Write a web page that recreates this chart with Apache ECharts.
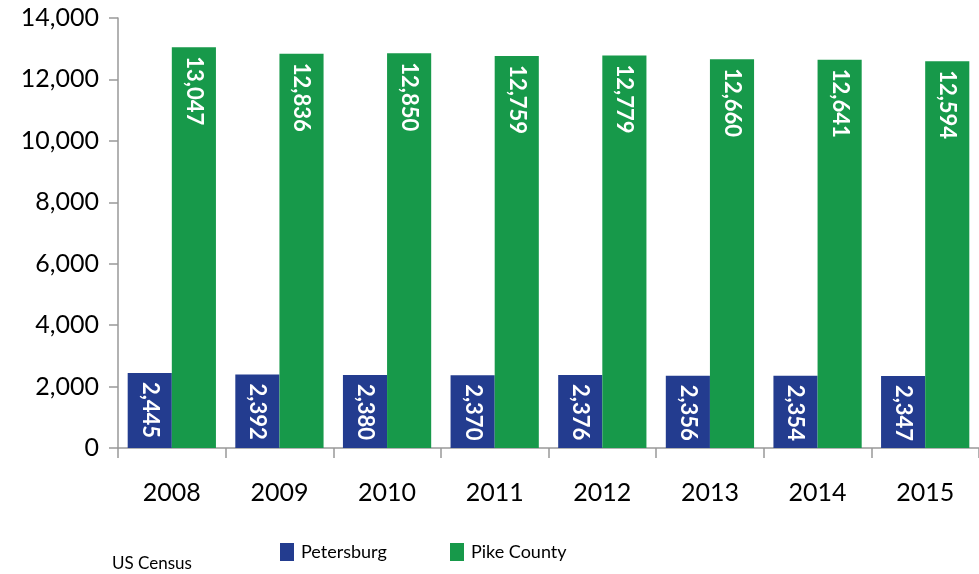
<!DOCTYPE html>
<html>
<head>
<meta charset="utf-8">
<script src="https://cdn.jsdelivr.net/npm/echarts@6/dist/echarts.min.js"></script>
<style>
  html, body { margin: 0; padding: 0; background: #fff; }
  #chart { width: 979px; height: 574px; }
</style>
</head>
<body>
<div id="chart"></div>
<script>
var years = ['2008', '2009', '2010', '2011', '2012', '2013', '2014', '2015'];
var petersburg = [2445, 2392, 2380, 2370, 2376, 2356, 2354, 2347];
var pikeCounty = [13047, 12836, 12850, 12759, 12779, 12660, 12641, 12594];
var yTicks = [0, 2000, 4000, 6000, 8000, 10000, 12000, 14000];

var font = 'Lato';
var chart = echarts.init(document.getElementById('chart'));

function fmt(v) {
    return v.toLocaleString('en-US');
}

var barLabel = {
    show: true,
    position: 'insideTop',
    rotate: -90,
    align: 'left',
    verticalAlign: 'middle',
    distance: 9,
    color: '#fff',
    fontFamily: font,
    fontWeight: 'bold',
    fontSize: 22,
    formatter: function (p) { return fmt(p.value); }
};

function legendAt(x, name) {
    return {
        top: 538,
        left: x,
        itemWidth: 14,
        itemHeight: 18,
        icon: 'rect',
        textStyle: { fontSize: 18, color: '#000', fontFamily: font, padding: [0, 0, 0, 2] },
        data: [name]
    };
}

var option = {
    animation: false,
    textStyle: { fontFamily: font },
    grid: { left: 118, right: 0, top: 18, bottom: 126 },
    legend: [legendAt(275, 'Petersburg'), legendAt(445, 'Pike County')],
    graphic: [{
        type: 'text',
        left: 112,
        top: 555,
        style: { text: 'US Census', fontSize: 17, fill: '#000', fontFamily: font }
    }],
    xAxis: {
        type: 'category',
        data: years,
        axisLine: { lineStyle: { color: '#999', width: 1.5 } },
        axisTick: { show: true, length: 10, lineStyle: { color: '#999', width: 1.5 } },
        axisLabel: { fontSize: 25, color: '#000', margin: 32, fontFamily: font }
    },
    yAxis: {
        type: 'value',
        min: yTicks[0],
        max: yTicks[yTicks.length - 1],
        interval: 2000,
        splitLine: { show: false },
        axisLine: { show: true, lineStyle: { color: '#999', width: 1.5 } },
        axisTick: { show: true, length: 9, lineStyle: { color: '#999', width: 1.5 } },
        axisLabel: {
            fontSize: 25, color: '#000', margin: 19, fontFamily: font,
            formatter: function (v) { return fmt(v); }
        }
    },
    series: [
        {
            name: 'Petersburg',
            type: 'bar',
            data: petersburg,
            barGap: '0%',
            barCategoryGap: '18%',
            itemStyle: { color: '#233C8F' },
            label: barLabel
        },
        {
            name: 'Pike County',
            type: 'bar',
            data: pikeCounty,
            barGap: '0%',
            barCategoryGap: '18%',
            itemStyle: { color: '#17994A' },
            label: barLabel
        }
    ]
};

chart.setOption(option);
</script>
</body>
</html>
